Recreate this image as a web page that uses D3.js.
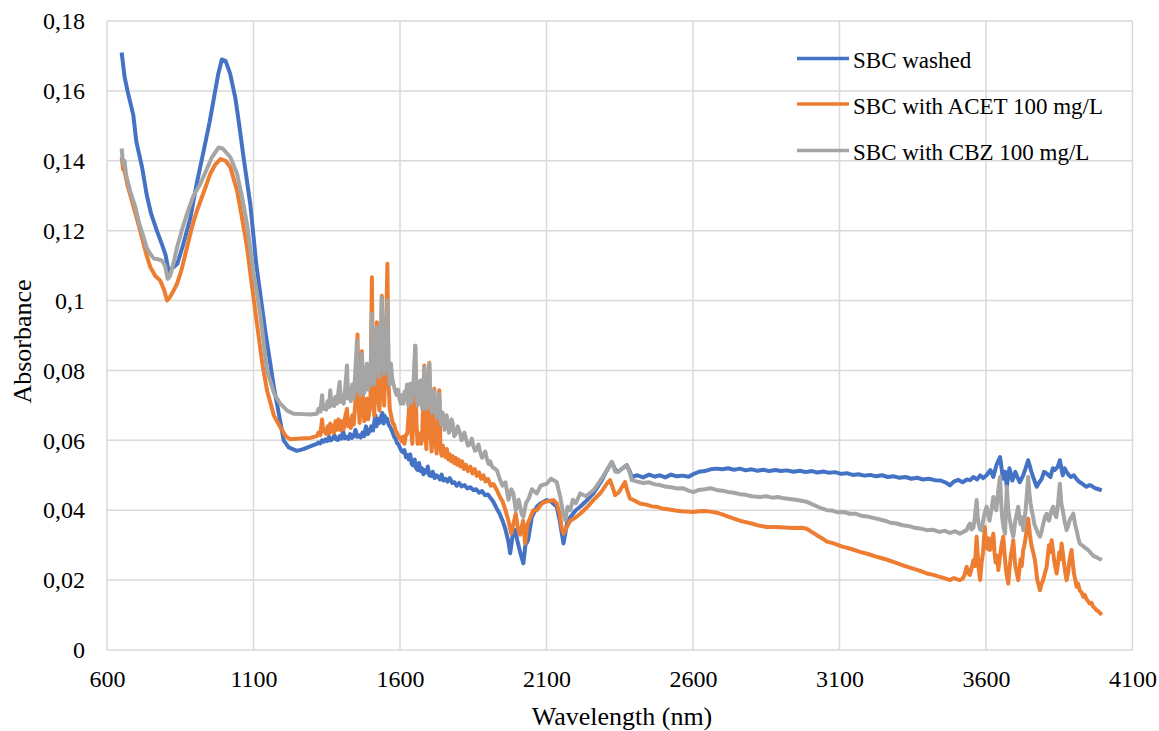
<!DOCTYPE html>
<html><head><meta charset="utf-8">
<script src="https://cdn.jsdelivr.net/npm/d3@7"></script>
<style>body{margin:0;background:#fff}svg{display:block}</style>
</head><body>
<script>
const xTicks = [600,1100,1600,2100,2600,3100,3600,4100];
const yTicks = [0,0.02,0.04,0.06,0.08,0.1,0.12,0.14,0.16,0.18];
const seriesNames = ["SBC washed","SBC with ACET 100 mg/L","SBC with CBZ 100 mg/L"];
const seriesColors = ["#4472C4","#ED7D31","#A5A5A5"];

const washed = [[650,0.171],[660,0.164],[670,0.160],[690,0.153],[700,0.1455],[720,0.138],[735,0.1305],[750,0.125],[770,0.120],[790,0.1155],[800,0.113],[810,0.1085],[820,0.109],[840,0.1105],[860,0.116],[885,0.1238],[905,0.133],[930,0.1429],[950,0.151],[965,0.158],[980,0.165],[992,0.169],[1005,0.1685],[1020,0.165],[1038,0.158],[1050,0.151],[1066,0.141],[1089,0.1276],[1110,0.110],[1140,0.0914],[1170,0.075],[1190,0.066],[1203,0.060],[1220,0.058],[1248,0.057],[1270,0.0575],[1300,0.0585],
[1316,0.0590],[1322,0.0594],[1328,0.0591],[1334,0.0600],[1340,0.0596],[1346,0.0603],[1352,0.0598],[1358,0.0610],[1364,0.0600],[1370,0.0604],[1376,0.0615],[1382,0.0603],[1388,0.0601],[1394,0.0612],[1400,0.0605],[1406,0.0625],[1412,0.0606],[1418,0.0610],[1424,0.0604],[1430,0.0618],[1436,0.0607],[1442,0.0612],[1448,0.0630],[1454,0.0610],[1460,0.0614],[1466,0.0608],[1472,0.0622],[1478,0.0612],[1484,0.0640],[1490,0.0618],[1496,0.0625],[1502,0.0640],[1508,0.0628],[1512,0.0650],[1516,0.0672],[1520,0.0640],[1525,0.0662],[1530,0.0650],[1535,0.0668],[1540,0.0678],[1544,0.0648],[1548,0.0670],[1552,0.0655],[1556,0.0662],[1560,0.0648],[1565,0.0640],[1570,0.0632],[1575,0.0622],[1580,0.0610],[1585,0.0604],[1590,0.0592],[1595,0.0588],[1600,0.0578],[1605,0.0570],[1610,0.0566],[1615,0.0572],[1620,0.0552],[1625,0.0558],[1630,0.0545],[1635,0.0560],[1640,0.0532],[1645,0.0528],[1650,0.0545],[1655,0.0520],[1660,0.0515],[1665,0.0535],[1670,0.0512],[1675,0.0520],[1680,0.0503],[1685,0.0515],[1690,0.0508],[1695,0.0525],[1700,0.0500],[1706,0.0498],[1712,0.0510],[1718,0.0492],[1724,0.0500],[1730,0.0496],[1736,0.0488],[1742,0.0502],[1748,0.0485],[1755,0.0490],[1762,0.0482],[1770,0.0492],[1778,0.0478],[1786,0.0480],[1794,0.0470],[1802,0.0478],[1810,0.0468],[1820,0.0472],[1830,0.0462],[1840,0.0466],[1850,0.0458],[1860,0.0460],[1870,0.0450],[1880,0.0455],[1890,0.0443],[1900,0.0445],[1910,0.0434],[1918,0.0425],[1930,0.0405],[1940,0.0390],[1950,0.0370],[1960,0.0345],[1970,0.0310],[1976,0.0277],[1985,0.0330],[1993,0.0343],[2000,0.0315],[2010,0.0280],[2021,0.0248],[2028,0.0300],[2037,0.0314],[2050,0.0380],[2067,0.0410],[2080,0.0420],[2101,0.0429],[2115,0.0425],[2135,0.0410],[2145,0.0370],[2158,0.0305],[2170,0.0362],[2181,0.0380],[2200,0.0400],[2215,0.0410],[2240,0.0430],[2260,0.0448],[2285,0.0480],[2306,0.0514],[2323,0.0538],[2335,0.0515],[2345,0.0510],[2360,0.0520],[2374,0.0529],[2385,0.0510],
[2391,0.0495],[2410,0.0500],[2430,0.0494],[2450,0.0502],[2470,0.0496],[2487,0.0500],[2505,0.0494],[2525,0.0502],[2545,0.0497],[2565,0.0499],[2585,0.0496],[2600,0.0503],[2620,0.0510],[2640,0.0512],[2660,0.0517],[2680,0.0519],[2700,0.0517],[2720,0.0520],[2740,0.0516],[2760,0.0519],[2780,0.0514],[2800,0.0517],[2820,0.0513],[2840,0.0516],[2860,0.0512],[2880,0.0515],[2900,0.0512],[2920,0.0514],[2943,0.0510],[2965,0.0513],[2985,0.0509],[3005,0.0512],[3025,0.0508],[3045,0.0511],[3065,0.0507],[3085,0.0509],[3105,0.0504],[3125,0.0506],[3145,0.0501],[3165,0.0503],[3185,0.0499],[3205,0.0501],[3225,0.0497],[3245,0.0500],[3265,0.0495],[3285,0.0497],[3305,0.0493],[3325,0.0495],[3345,0.0490],[3365,0.0493],[3385,0.0488],[3405,0.0490],[3425,0.0486],[3445,0.0485],[3465,0.0478],[3477,0.0471],[3490,0.0482],[3505,0.0487],[3520,0.0480],[3535,0.0488],[3546,0.0486],[3557,0.0495],[3570,0.0488],[3580,0.0500],[3590,0.0492],[3602,0.0500],[3615,0.0515],[3625,0.0495],[3636,0.0530],[3648,0.0552],[3658,0.0490],[3665,0.0510],[3671,0.0467],[3680,0.0520],[3690,0.0485],[3700,0.0510],[3707,0.0495],[3715,0.0480],[3727,0.0500],[3735,0.0520],[3744,0.0543],[3755,0.0510],[3763,0.0490],[3773,0.0467],[3782,0.0480],[3790,0.0490],[3798,0.0510],[3807,0.0505],[3820,0.0495],[3828,0.0520],[3835,0.0515],[3845,0.0525],[3852,0.0543],[3862,0.0500],[3868,0.0520],[3875,0.0510],[3883,0.0500],[3890,0.0495],[3900,0.0500],[3910,0.0488],[3920,0.0480],[3930,0.0475],[3943,0.0467],[3952,0.0472],[3960,0.0470],[3968,0.0465],[3975,0.0462],[3985,0.0460],[3995,0.0457]];

const acet = [[650,0.141],[655,0.1375],[660,0.137],[670,0.133],[690,0.127],[705,0.1225],[719,0.1181],[735,0.113],[748,0.1095],[765,0.107],[782,0.1057],[795,0.103],[805,0.100],[815,0.101],[825,0.1025],[839,0.1048],[855,0.109],[873,0.1152],[890,0.121],[907,0.1257],[930,0.131],[952,0.1362],[970,0.139],[987,0.1405],[1005,0.140],[1021,0.1381],[1044,0.1314],[1060,0.124],[1078,0.1152],[1095,0.104],[1112,0.0933],[1130,0.082],[1146,0.0743],[1170,0.067],[1191,0.0638],[1210,0.0612],[1225,0.0603],[1260,0.0605],[1294,0.0607],
[1316,0.0612],[1322,0.0622],[1328,0.0615],[1334,0.0660],[1338,0.0625],[1343,0.0632],[1348,0.0618],[1353,0.0640],[1358,0.0620],[1362,0.0648],[1366,0.0625],[1371,0.0642],[1375,0.0622],[1380,0.0655],[1385,0.0630],[1390,0.0660],[1394,0.0640],[1398,0.0628],[1403,0.0655],[1408,0.0632],[1413,0.0668],[1419,0.0690],[1423,0.0640],[1428,0.0660],[1432,0.0635],[1437,0.0672],[1442,0.0645],[1447,0.0700],[1451,0.0780],[1455,0.0903],[1459,0.0700],[1462,0.0650],[1466,0.0720],[1470,0.0855],[1474,0.0700],[1478,0.0655],[1482,0.0690],[1487,0.0720],[1491,0.0660],[1495,0.0680],[1499,0.0700],[1504,0.1067],[1508,0.0750],[1512,0.0670],[1516,0.0780],[1521,0.0938],[1525,0.0720],[1530,0.0685],[1534,0.0800],[1538,0.1014],[1542,0.0760],[1546,0.0700],[1551,0.0850],[1557,0.1105],[1561,0.0760],[1565,0.0690],[1570,0.0670],[1575,0.0650],[1580,0.0645],[1585,0.0628],[1590,0.0620],[1595,0.0612],[1600,0.0605],[1605,0.0598],[1610,0.0610],[1615,0.0590],[1620,0.0615],[1625,0.0620],[1630,0.0680],[1635,0.0757],[1639,0.0620],[1642,0.0590],[1647,0.0700],[1652,0.0871],[1656,0.0650],[1660,0.0590],[1664,0.0620],[1668,0.0610],[1672,0.0590],[1675,0.0600],[1679,0.0700],[1683,0.0814],[1687,0.0620],[1690,0.0575],[1695,0.0700],[1700,0.0822],[1704,0.0620],[1708,0.0568],[1712,0.0640],[1717,0.0748],[1721,0.0600],[1725,0.0562],[1729,0.0650],[1734,0.0743],[1738,0.0580],[1742,0.0556],[1746,0.0585],[1750,0.0570],[1755,0.0552],[1760,0.0575],[1765,0.0545],[1770,0.0560],[1775,0.0540],[1780,0.0555],[1785,0.0535],[1790,0.0550],[1795,0.0530],[1800,0.0545],[1806,0.0525],[1812,0.0540],[1818,0.0518],[1825,0.0530],[1832,0.0512],[1840,0.0525],[1847,0.0505],[1855,0.0518],[1862,0.0498],[1870,0.0508],[1877,0.0490],[1885,0.0500],[1892,0.0482],[1900,0.0490],[1910,0.0470],[1919,0.0475],[1931,0.0457],[1940,0.0440],[1950,0.0425],[1960,0.0400],[1970,0.0370],[1980,0.0333],[1987,0.0360],[1995,0.0390],[2002,0.0350],[2010,0.0330],[2020,0.0370],[2027,0.0305],[2035,0.0360],[2045,0.0380],[2055,0.0400],[2067,0.0400],[2085,0.0420],[2101,0.0425],[2124,0.0429],[2135,0.0420],[2145,0.0390],[2152,0.0350],[2158,0.0333],[2168,0.0350],[2181,0.0370],[2200,0.0380],[2215,0.0390],[2240,0.0410],[2260,0.0429],[2285,0.0450],[2306,0.0476],[2317,0.0486],[2328,0.0460],[2334,0.0443],[2345,0.0450],[2351,0.0457],[2360,0.0470],[2368,0.0481],[2376,0.0455],[2385,0.0433],
[2400,0.0428],[2419,0.0419],[2440,0.0416],[2460,0.0411],[2480,0.0409],[2500,0.0404],[2520,0.0402],[2540,0.0399],[2560,0.0397],[2580,0.0396],[2601,0.0395],[2620,0.0397],[2640,0.0398],[2660,0.0396],[2680,0.0393],[2700,0.0388],[2720,0.0382],[2740,0.0376],[2760,0.0370],[2780,0.0366],[2800,0.0362],[2825,0.0356],[2852,0.0352],[2875,0.0352],[2900,0.0351],[2925,0.0350],[2950,0.0349],[2970,0.0350],[2988,0.0347],[3005,0.0338],[3020,0.0330],[3040,0.0320],[3057,0.0310],[3080,0.0305],[3110,0.0296],[3140,0.0289],[3170,0.0281],[3200,0.0274],[3230,0.0266],[3260,0.0259],[3284,0.0252],[3310,0.0244],[3340,0.0236],[3370,0.0228],[3398,0.0219],[3420,0.0215],[3440,0.0210],[3460,0.0205],[3477,0.0200],[3490,0.0206],[3500,0.0203],[3510,0.0200],[3520,0.0204],[3527,0.0215],[3534,0.0238],[3540,0.0220],[3545,0.0215],[3551,0.0235],[3557,0.0257],[3562,0.0240],[3568,0.0324],[3574,0.0240],[3580,0.0200],[3585,0.0250],[3590,0.0280],[3596,0.0352],[3600,0.0300],[3605,0.0290],[3609,0.0320],[3613,0.0286],[3619,0.0300],[3625,0.0333],[3629,0.0280],[3633,0.0250],[3638,0.0270],[3642,0.0229],[3648,0.0270],[3653,0.0300],[3659,0.0324],[3664,0.0270],[3668,0.0230],[3672,0.0210],[3676,0.0190],[3681,0.0240],[3685,0.0270],[3689,0.0290],[3693,0.0314],[3697,0.0270],[3700,0.0240],[3705,0.0220],[3710,0.0200],[3714,0.0230],[3718,0.0260],[3722,0.0240],[3727,0.0286],[3731,0.0300],[3735,0.0320],[3740,0.0350],[3744,0.0376],[3750,0.0330],[3755,0.0300],[3761,0.0280],[3767,0.0257],[3771,0.0230],[3775,0.0200],[3780,0.0185],[3784,0.0171],[3790,0.0190],[3795,0.0200],[3801,0.0220],[3807,0.0238],[3811,0.0270],[3815,0.0300],[3820,0.0280],[3824,0.0314],[3828,0.0290],[3832,0.0260],[3836,0.0240],[3841,0.0219],[3846,0.0250],[3850,0.0280],[3854,0.0260],[3858,0.0305],[3862,0.0280],[3866,0.0250],[3870,0.0225],[3875,0.0200],[3880,0.0220],[3884,0.0250],[3888,0.0270],[3892,0.0286],[3896,0.0250],[3900,0.0220],[3905,0.0200],[3909,0.0181],[3914,0.0190],[3920,0.0170],[3926,0.0165],[3932,0.0152],[3937,0.0158],[3943,0.0145],[3948,0.0140],[3954,0.0133],[3960,0.0135],[3965,0.0125],[3971,0.0120],[3977,0.0114],[3982,0.0112],[3987,0.0108],[3995,0.0100]];

const cbz = [[650,0.1435],[655,0.139],[660,0.140],[665,0.136],[680,0.131],[697,0.1267],[710,0.122],[725,0.1181],[736,0.115],[748,0.1133],[760,0.112],[775,0.1118],[788,0.1114],[798,0.110],[807,0.1062],[815,0.107],[825,0.110],[839,0.1152],[855,0.120],[873,0.1248],[895,0.130],[918,0.1333],[940,0.1375],[958,0.141],[981,0.1438],[995,0.1435],[1021,0.141],[1044,0.1362],[1060,0.130],[1078,0.1219],[1100,0.108],[1123,0.0962],[1146,0.080],[1170,0.0735],[1191,0.0705],[1215,0.0685],[1237,0.0676],[1270,0.0675],[1294,0.0674],
[1316,0.0676],[1322,0.0690],[1328,0.0682],[1334,0.0729],[1338,0.0690],[1343,0.0700],[1348,0.0688],[1353,0.0712],[1358,0.0695],[1362,0.0743],[1366,0.0700],[1371,0.0718],[1375,0.0698],[1380,0.0725],[1385,0.0705],[1390,0.0740],[1394,0.0767],[1398,0.0710],[1403,0.0728],[1408,0.0705],[1413,0.0750],[1419,0.0814],[1423,0.0720],[1428,0.0745],[1432,0.0712],[1437,0.0760],[1442,0.0720],[1447,0.0790],[1453,0.0886],[1457,0.0740],[1462,0.0770],[1466,0.0730],[1470,0.0848],[1474,0.0750],[1478,0.0735],[1482,0.0790],[1487,0.0819],[1491,0.0745],[1495,0.0780],[1499,0.0760],[1504,0.0962],[1508,0.0790],[1512,0.0760],[1516,0.0850],[1521,0.0924],[1525,0.0800],[1530,0.0780],[1534,0.0880],[1538,0.1009],[1542,0.0840],[1546,0.0790],[1551,0.0880],[1557,0.1000],[1561,0.0800],[1565,0.0760],[1569,0.0820],[1573,0.0780],[1578,0.0760],[1583,0.0743],[1588,0.0730],[1593,0.0745],[1598,0.0720],[1603,0.0705],[1608,0.0730],[1612,0.0705],[1616,0.0740],[1620,0.0720],[1624,0.0760],[1628,0.0700],[1632,0.0745],[1635,0.0762],[1639,0.0710],[1643,0.0730],[1647,0.0780],[1652,0.0871],[1656,0.0730],[1660,0.0700],[1664,0.0750],[1669,0.0771],[1673,0.0710],[1676,0.0690],[1680,0.0760],[1683,0.0810],[1687,0.0710],[1690,0.0690],[1695,0.0760],[1700,0.0819],[1704,0.0710],[1708,0.0680],[1712,0.0700],[1717,0.0743],[1721,0.0680],[1725,0.0665],[1729,0.0695],[1734,0.0733],[1738,0.0660],[1741,0.0645],[1745,0.0680],[1748,0.0670],[1752,0.0630],[1755,0.0640],[1759,0.0672],[1762,0.0655],[1767,0.0622],[1771,0.0630],[1776,0.0660],[1780,0.0648],[1785,0.0612],[1790,0.0618],[1797,0.0640],[1805,0.0620],[1810,0.0600],[1815,0.0605],[1820,0.0622],[1825,0.0605],[1832,0.0585],[1840,0.0590],[1845,0.0605],[1850,0.0585],[1856,0.0570],[1862,0.0575],[1868,0.0588],[1874,0.0565],[1880,0.0550],[1885,0.0558],[1891,0.0568],[1897,0.0545],[1903,0.0532],[1908,0.0540],[1914,0.0525],[1922,0.0520],[1931,0.0514],[1940,0.0490],[1950,0.0470],[1960,0.0480],[1970,0.0430],[1980,0.0460],[1987,0.0448],[1995,0.0400],[2005,0.0430],[2015,0.0390],[2021,0.0381],[2030,0.0420],[2040,0.0435],[2050,0.0460],[2067,0.0448],[2080,0.0470],[2101,0.0476],[2115,0.0490],[2124,0.0486],[2135,0.0480],[2147,0.0438],[2155,0.0400],[2164,0.0371],[2172,0.0410],[2181,0.0400],[2190,0.0430],[2200,0.0420],[2215,0.0448],[2235,0.0440],[2260,0.0457],[2280,0.0480],[2306,0.0514],[2323,0.0538],[2335,0.0510],[2345,0.0510],[2360,0.0520],[2374,0.0529],[2385,0.0505],
[2391,0.0486],[2410,0.0482],[2430,0.0478],[2450,0.0480],[2470,0.0474],[2487,0.0472],[2505,0.0468],[2525,0.0466],[2545,0.0462],[2565,0.0463],[2585,0.0456],[2601,0.0452],[2620,0.0458],[2640,0.0460],[2660,0.0463],[2680,0.0458],[2700,0.0456],[2720,0.0452],[2740,0.0450],[2760,0.0446],[2780,0.0444],[2800,0.0440],[2829,0.0438],[2850,0.0440],[2870,0.0436],[2890,0.0438],[2910,0.0434],[2930,0.0432],[2950,0.0430],[2970,0.0427],[2988,0.0424],[3005,0.0418],[3020,0.0412],[3040,0.0405],[3057,0.0400],[3075,0.0399],[3095,0.0394],[3115,0.0395],[3135,0.0390],[3155,0.0390],[3175,0.0384],[3195,0.0382],[3215,0.0378],[3235,0.0374],[3255,0.0370],[3275,0.0364],[3295,0.0362],[3315,0.0357],[3335,0.0355],[3355,0.0350],[3375,0.0348],[3398,0.0343],[3420,0.0344],[3440,0.0338],[3460,0.0341],[3477,0.0335],[3495,0.0340],[3511,0.0333],[3522,0.0338],[3534,0.0343],[3540,0.0355],[3546,0.0362],[3551,0.0345],[3557,0.0350],[3562,0.0380],[3568,0.0429],[3572,0.0380],[3575,0.0360],[3580,0.0345],[3585,0.0343],[3590,0.0370],[3595,0.0390],[3602,0.0410],[3607,0.0390],[3612,0.0370],[3618,0.0400],[3625,0.0438],[3630,0.0410],[3635,0.0400],[3641,0.0450],[3648,0.0495],[3652,0.0420],[3655,0.0380],[3660,0.0350],[3665,0.0333],[3668,0.0400],[3671,0.0467],[3676,0.0400],[3680,0.0380],[3686,0.0350],[3693,0.0324],[3697,0.0350],[3700,0.0370],[3705,0.0390],[3710,0.0410],[3714,0.0380],[3718,0.0360],[3722,0.0380],[3727,0.0343],[3731,0.0370],[3735,0.0400],[3740,0.0450],[3744,0.0495],[3748,0.0450],[3752,0.0420],[3756,0.0400],[3761,0.0381],[3765,0.0360],[3770,0.0350],[3777,0.0335],[3784,0.0324],[3790,0.0340],[3795,0.0360],[3801,0.0380],[3807,0.0390],[3811,0.0375],[3815,0.0370],[3822,0.0395],[3829,0.0410],[3834,0.0390],[3840,0.0380],[3846,0.0420],[3852,0.0476],[3857,0.0420],[3862,0.0400],[3868,0.0370],[3875,0.0343],[3880,0.0355],[3885,0.0370],[3891,0.0380],[3898,0.0390],[3904,0.0360],[3910,0.0340],[3915,0.0320],[3920,0.0305],[3927,0.0300],[3935,0.0295],[3942,0.0290],[3949,0.0286],[3955,0.0280],[3960,0.0275],[3966,0.0270],[3971,0.0267],[3978,0.0265],[3985,0.0262],[3990,0.0260],[3995,0.0257]];

const allSeries = [washed, acet, cbz];

const W = 1159, H = 731;
const m = {left:107, right:26.5, top:21, bottom:81};
const svg = d3.select("body").append("svg").attr("width",W).attr("height",H);
const x = d3.scaleLinear().domain([600,4100]).range([m.left, W-m.right]);
const y = d3.scaleLinear().domain([0,0.18]).range([H-m.bottom, m.top]);
const font = "'Liberation Serif','Times New Roman',serif";

// grid
svg.append("g").selectAll("line").data(yTicks).join("line")
  .attr("x1",x(600)).attr("x2",x(4100)).attr("y1",d=>y(d)).attr("y2",d=>y(d))
  .attr("stroke","#d9d9d9").attr("stroke-width",1.5);
svg.append("g").selectAll("line").data(xTicks).join("line")
  .attr("x1",d=>x(d)).attr("x2",d=>x(d)).attr("y1",y(0)).attr("y2",y(0.18))
  .attr("stroke","#d9d9d9").attr("stroke-width",1.5);

// axes labels
const fmtY = d => d===0 ? "0" : d3.format(".2f")(d).replace(/0$/,"").replace(".",",");
const yAxis = d3.axisLeft(y).tickValues(yTicks).tickSize(0).tickPadding(22).tickFormat(fmtY);
const gy = svg.append("g").attr("transform",`translate(${m.left},0)`).call(yAxis);
gy.select(".domain").remove();
gy.selectAll("text").attr("font-family",font).attr("font-size",24).attr("fill","#000");
const xAxis = d3.axisBottom(x).tickValues(xTicks).tickSize(0).tickPadding(20).tickFormat(d3.format("d"));
const gx = svg.append("g").attr("transform",`translate(0,${y(0)})`).call(xAxis);
gx.select(".domain").remove();
gx.selectAll("text").attr("font-family",font).attr("font-size",24).attr("fill","#000");

// lines
const line = d3.line().x(d=>x(d[0])).y(d=>y(d[1]));
allSeries.forEach((s,i)=>{
  svg.append("path").datum(s).attr("d",line).attr("fill","none")
    .attr("stroke",seriesColors[i]).attr("stroke-width",4).attr("stroke-linejoin","round");
});

// titles
svg.append("text").attr("x",622).attr("y",725).attr("text-anchor","middle")
  .attr("font-family",font).attr("font-size",26).text("Wavelength (nm)");
svg.append("text").attr("transform",`translate(31,${(m.top+H-m.bottom)/2+6}) rotate(-90)`).attr("text-anchor","middle")
  .attr("font-family",font).attr("font-size",26).text("Absorbance");

// legend
const legY = [58.5,104,150.5];
const lg = svg.append("g");
seriesNames.forEach((n,i)=>{
  lg.append("line").attr("x1",797).attr("x2",849).attr("y1",legY[i]).attr("y2",legY[i])
    .attr("stroke",seriesColors[i]).attr("stroke-width",3.5);
  lg.append("text").attr("x",853).attr("y",legY[i]+9.5).attr("font-family",font).attr("font-size",23)
    .attr("fill","#000").text(n);
});
</script>
</body></html>
